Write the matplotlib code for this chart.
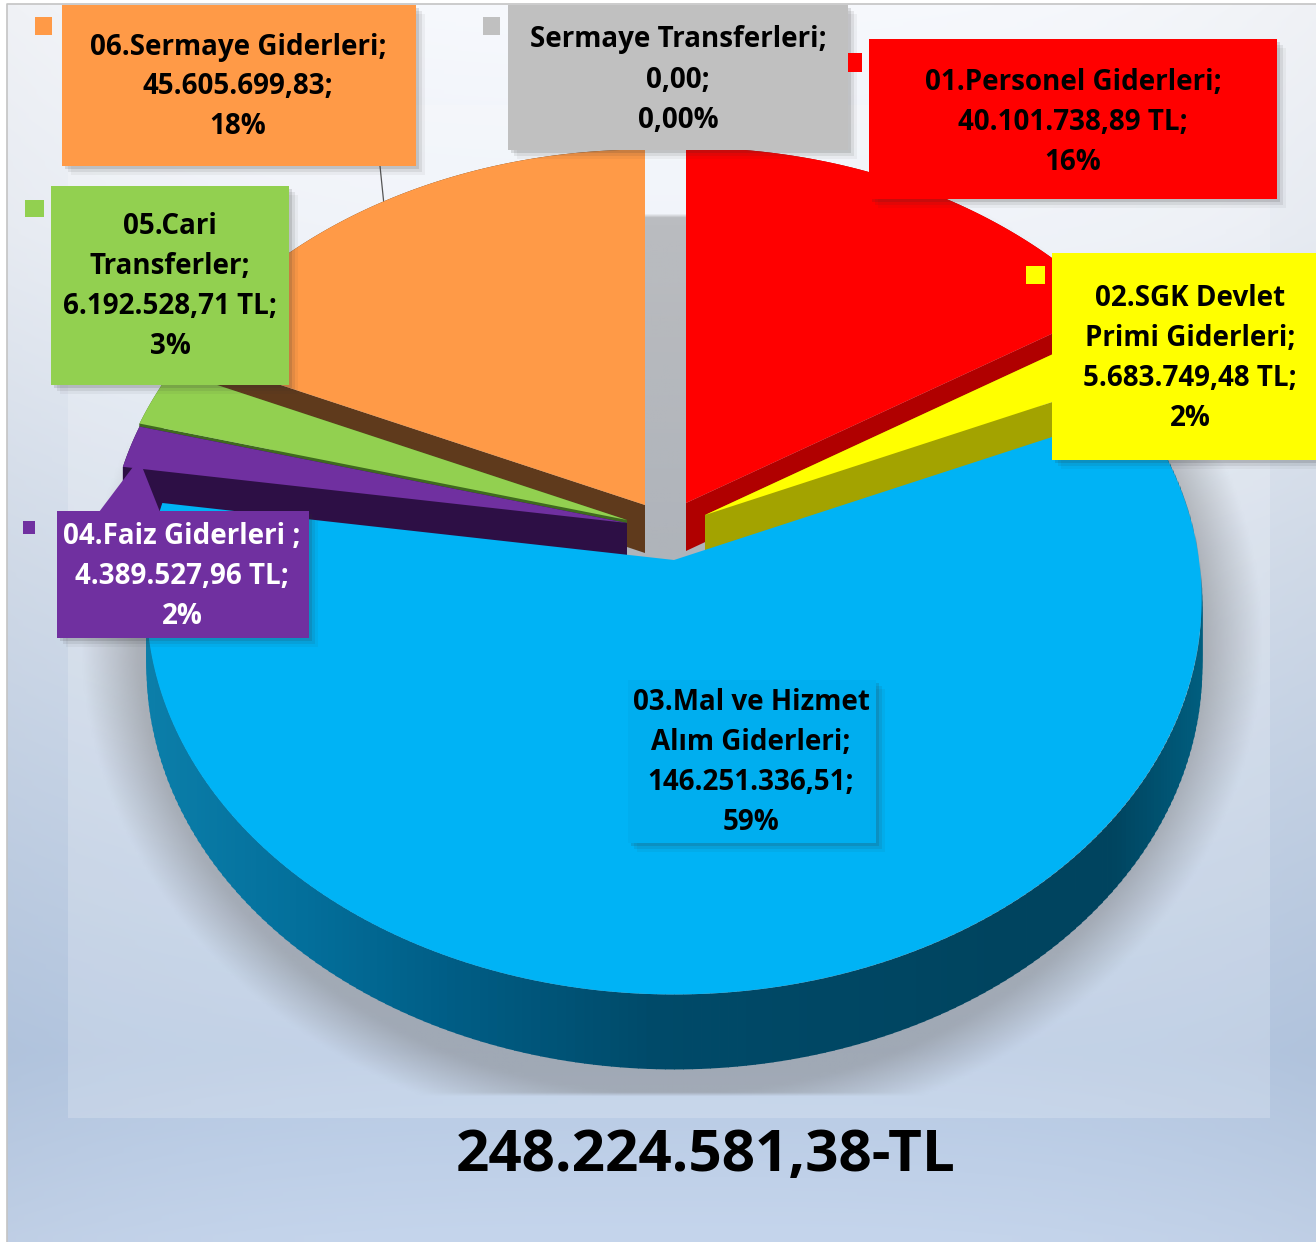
import numpy as np
import matplotlib
matplotlib.use("Agg")
import matplotlib.pyplot as plt
from matplotlib.colors import LinearSegmentedColormap, to_rgb

plt.rcParams['font.family'] = ['Open Sans', 'DejaVu Sans']

# datos
names = ["01.Personel Giderleri", "02.SGK Devlet Primi Giderleri", "03.Mal ve Hizmet Alım Giderleri",
         "04.Faiz Giderleri", "05.Cari Transferler", "06.Sermaye Giderleri", "Sermaye Transferleri"]
values = [40101738.89, 5683749.48, 146251336.51, 4389527.96, 6192528.71, 45605699.83, 0.0]
label_texts = ["01.Personel Giderleri;\n40.101.738,89 TL;\n16%",
               "02.SGK Devlet\nPrimi Giderleri;\n5.683.749,48 TL;\n2%",
               "03.Mal ve Hizmet\nAlım Giderleri;\n146.251.336,51;\n59%",
               "04.Faiz Giderleri ;\n4.389.527,96 TL;\n2%",
               "05.Cari\nTransferler;\n6.192.528,71 TL;\n3%",
               "06.Sermaye Giderleri;\n45.605.699,83;\n18%",
               "Sermaye Transferleri;\n0,00;\n0,00%"]
total_label = "248.224.581,38-TL"

# estilos y posiciones
top_colors = ["#ff0000", "#ffff00", "#00b3f5", "#7030a0", "#92d050", "#ff9a47", "#c0c0c0"]
wall_colors = ["#b00000", "#a3a300", "#00506f", "#2d0f45", "#3f6a1e", "#5f3a1c", "#808080"]
text_colors = ["black", "black", "black", "white", "black", "black", "black"]
apex = [(686, 503), (705, 515), (674, 560), (627, 523), (627, 520), (645, 505), (672, 560)]
rim = [1, 1, 1, 0.985, 0.985, 1, 1]
boxes = [(869, 39, 1277, 199), (1052, 253, 1330, 460), (628, 680, 876, 843), (57, 511, 309, 638),
         (51, 186, 289, 385), (62, 5, 416, 166), (508, 5, 848, 150)]
keys = [(848, 53, 862, 72), (1026, 266, 1045, 284), None, (23, 521, 35, 534),
        (25, 200, 44, 217), (35, 17, 52, 35), (483, 17, 500, 35)]
text_centers = [(1073, 122), (1190, 359), (751, 762), (182, 577), (170, 287), (238, 87), (678, 80)]
box_colors = list(top_colors)
box_colors[2] = "#00aeef"

RX, RY, K = 525, 391, 0.10
DEPTH_FRONT, DEPTH_BACK = 67.5, 48


def project(x, y, ax0, ay0):
    w = 1 + K * y
    return ax0 + RX * x / w, ay0 - RY * y / w


fig = plt.figure(figsize=(13.16, 12.42), dpi=100)

# pie solo para sacar los angulos
ax_pie = fig.add_axes([0, 0, 0.01, 0.01])
wedges, _ = ax_pie.pie(values, startangle=90, counterclock=False)
ax_pie.set_visible(False)

ax = fig.add_axes([0, 0, 1, 1])

# fondo
bg = LinearSegmentedColormap.from_list("bg", [(0, "#f7f9fd"), (0.18, "#eef2f9"), (0.45, "#d6e0ee"),
                                              (0.85, "#b6c9e3"), (1, "#c5d5ec")])
yy, xx = np.mgrid[0:1:311j, 0:1:330j]
rgb = bg(yy)[:, :, :3]
rgb *= (1 - 0.03 * np.abs(2 * xx - 1) ** 3)[:, :, None]
ax.imshow(rgb, extent=(0, 1316, 1242, 0), aspect='auto', zorder=0, interpolation='bilinear')
ax.fill([68, 1270, 1270, 68], [105, 105, 1118, 1118], color="white", alpha=0.2, lw=0, zorder=0.5)
ax.fill([0, 7, 7, 0], [0, 0, 1242, 1242], color="white", lw=0, zorder=0.6)
ax.fill([0, 1316, 1316, 0], [0, 0, 4, 4], color="white", lw=0, zorder=0.6)
ax.plot([7, 7, 1316], [1242, 4, 4], color="#c4c4c4", lw=1.2, zorder=0.7)

# sombra de la torta
sy, sx = np.mgrid[0:1242:311j, 0:1316:330j]
d = np.sqrt(((sx - 672) / 575) ** 2 + ((sy - 640) / 490) ** 2)
sh = np.zeros(d.shape + (4,))
sh[:, :, :3] = to_rgb("#6f6f70")
sh[:, :, 3] = np.clip((1.03 - d) / 0.10, 0, 1) * 0.42
sh[(sy < 213) | (sy > 1096), 3] = 0
ax.imshow(sh, extent=(0, 1316, 1242, 0), aspect='auto', zorder=1, interpolation='bilinear')

# paredes y tapas: primero las de atras, la azul al final
blue_pos = [0, 150, 300, 450, 650, 1000, 1110, 1205]
blue_col = ["#0b84b0", "#0b7ea9", "#036f9b", "#005d85", "#004a69", "#00445f", "#00445f", "#005f80"]
blue_rgb = np.array([to_rgb(c) for c in blue_col])
order = [0, 1, 5, 4, 3, 2]
z = 2
for i in order:
    w = wedges[i]
    ang = np.radians(np.linspace(w.theta1, w.theta2, 240))
    ux, uy = np.cos(ang) * rim[i], np.sin(ang) * rim[i]
    ax0, ay0 = apex[i]
    arc_x, arc_y = project(ux, uy, ax0, ay0)
    depth = DEPTH_FRONT if i == 2 else DEPTH_BACK
    drop = depth / (1 + K * uy)
    if i == 2:
        for j in range(len(arc_x) - 1):
            c = [np.interp(arc_x[j], blue_pos, blue_rgb[:, n]) for n in range(3)]
            ax.fill([arc_x[j], arc_x[j + 1] + 0.8, arc_x[j + 1] + 0.8, arc_x[j]],
                    [arc_y[j], arc_y[j + 1], arc_y[j + 1] + drop[j + 1], arc_y[j] + drop[j]],
                    color=c, lw=0, zorder=z)
    else:
        ax.fill(np.r_[arc_x, arc_x[::-1]], np.r_[arc_y, (arc_y + drop)[::-1]],
                color=wall_colors[i], lw=0, zorder=z)
        for e in (0, -1):
            ax.fill([ax0, arc_x[e], arc_x[e], ax0],
                    [ay0, arc_y[e], arc_y[e] + drop[e], ay0 + depth],
                    color=wall_colors[i], lw=0, zorder=z)
    ax.fill(np.r_[ax0, arc_x], np.r_[ay0, arc_y], color=top_colors[i], lw=0, zorder=z + 0.5)
    z += 1

# linea guia de la etiqueta naranja
ax.plot([380, 384], [166, 205], color="#555555", lw=0.9, zorder=1.5)

# etiquetas
for i, txt in enumerate(label_texts):
    x0, y0, x1, y1 = boxes[i]
    for s, a in [(9, 0.05), (6, 0.09), (3, 0.14)]:
        ax.fill([x0 + s, x1 + s, x1 + s, x0 + s], [y0 + s, y0 + s, y1 + s, y1 + s],
                color="#303030", alpha=a, lw=0, zorder=20)
    ax.fill([x0, x1, x1, x0], [y0, y0, y1, y1], color=box_colors[i], lw=0, zorder=21)
    if i == 3:
        ax.fill([99, 139, 160], [512, 459, 512], color=box_colors[i], lw=0, zorder=21)
    ax.text(text_centers[i][0], text_centers[i][1], txt, ha='center', va='center', color=text_colors[i],
            fontsize=20, fontweight='bold', linespacing=1.5, zorder=23)
    if keys[i] is not None:
        kx0, ky0, kx1, ky1 = keys[i]
        ax.fill([kx0, kx1, kx1, kx0], [ky0, ky0, ky1, ky1], color=top_colors[i], lw=0, zorder=22)

ax.text(706, 1156, total_label, ha='center', va='center', fontsize=42, fontweight='bold',
        color="black", zorder=23)

ax.set_xlim(0, 1316)
ax.set_ylim(1242, 0)
ax.axis('off')
fig.savefig("out.png", dpi=100)
